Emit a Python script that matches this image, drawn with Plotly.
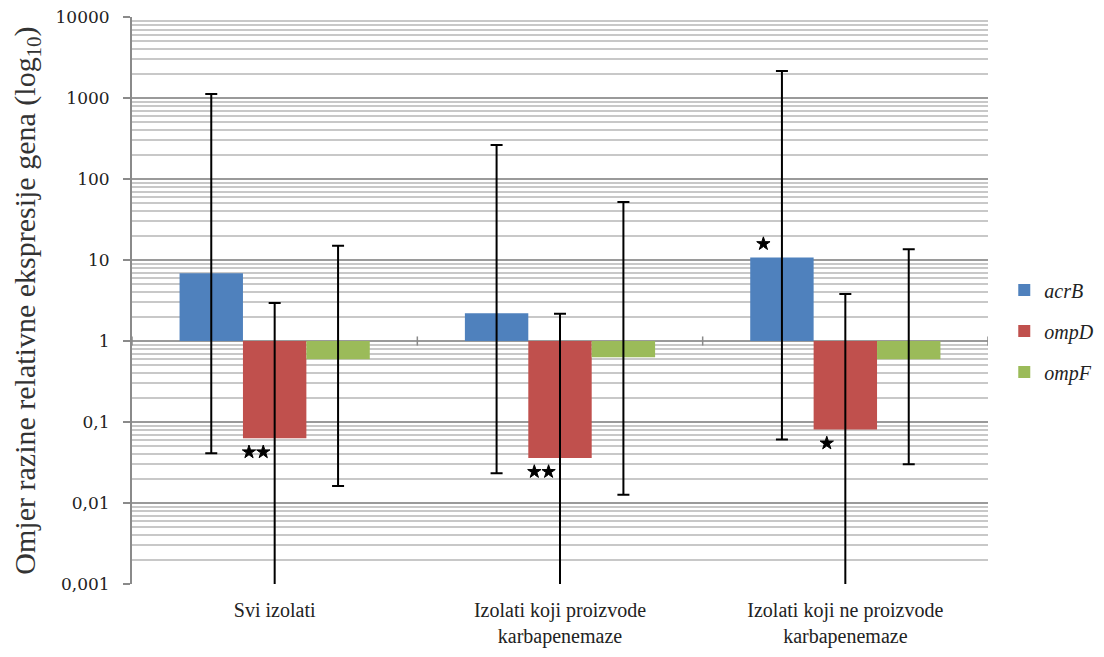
import plotly.graph_objects as go

categories = ["Svi izolati", "Izolati koji proizvode<br>karbapenemaze", "Izolati koji ne proizvode<br>karbapenemaze"]
series = ["acrB", "ompD", "ompF"]
colors = ["#4F81BD", "#C0504D", "#9BBB59"]

acrB = [6.85, 2.20, 10.7]
ompD = [0.063, 0.036, 0.081]
ompF = [0.594, 0.63, 0.594]

acrB_hi = [1120, 263, 2150]
acrB_lo = [0.041, 0.0233, 0.061]
ompD_hi = [2.94, 2.17, 3.8]
ompD_lo = [0.00001, 0.00001, 0.00001]
ompF_hi = [15.0, 52, 13.6]
ompF_lo = [0.0162, 0.0126, 0.030]

acrB_sig = ["", "", "*"]
ompD_sig = ["**", "**", "*"]
ompF_sig = ["", "", ""]

ytick_vals = [0.001, 0.01, 0.1, 1, 10, 100, 1000, 10000]
ytick_text = ["0,001", "0,01", "0,1", "1", "10", "100", "1000", "10000"]

values = [acrB, ompD, ompF]
highs = [acrB_hi, ompD_hi, ompF_hi]
lows = [acrB_lo, ompD_lo, ompF_lo]
sigs = [acrB_sig, ompD_sig, ompF_sig]

bar_w = 1 / 4.5
offsets = [-bar_w, 0, bar_w]
cat_x = list(range(len(categories)))

SERIF = "Liberation Serif"

fig = go.Figure()

for i, name in enumerate(series):
    xs = [c + offsets[i] for c in cat_x]
    vals = values[i]
    base = [1 if v >= 1 else v for v in vals]
    length = [v - 1 if v >= 1 else 1 - v for v in vals]
    fig.add_trace(go.Bar(
        x=xs, y=length, base=base, width=bar_w,
        name=f"<i>{name}</i>", marker=dict(color=colors[i], line=dict(width=0)),
        legendgroup=name, hoverinfo="skip",
    ))

for i, name in enumerate(series):
    xs = [c + offsets[i] for c in cat_x]
    vals = values[i]
    fig.add_trace(go.Scatter(
        x=xs, y=vals, mode="markers", marker=dict(size=1, opacity=0),
        showlegend=False, hoverinfo="skip",
        error_y=dict(type="data", symmetric=False,
                     array=[h - v for h, v in zip(highs[i], vals)],
                     arrayminus=[v - l for v, l in zip(vals, lows[i])],
                     color="black", thickness=2, width=6),
    ))

# significance stars
sx, sy = [], []
for i in range(len(series)):
    for j, s in enumerate(sigs[i]):
        n = len(s)
        if n == 0:
            continue
        v = values[i][j]
        yy = v * 1.48 if v >= 1 else v / 1.48
        for k in range(n):
            sx.append(cat_x[j] + offsets[i] - 0.065 + (k - (n - 1) / 2) * 0.05)
            sy.append(yy)
fig.add_trace(go.Scatter(x=sx, y=sy, mode="markers", showlegend=False, hoverinfo="skip",
                         marker=dict(symbol="star", size=10, color="black",
                                     line=dict(width=1, color="black"))))

# horizontal category axis crossing at 1, with boundary ticks
base_paper = 3 / 7
shapes = [dict(type="line", xref="x", yref="paper", x0=-0.5, x1=2.5, y0=base_paper, y1=base_paper,
               line=dict(color="#8a8a8a", width=1.5), layer="below")]
for b in [-0.5, 0.5, 1.5, 2.5]:
    shapes.append(dict(type="line", xref="x", yref="paper", x0=b, x1=b,
                       y0=base_paper - 0.008, y1=base_paper + 0.008,
                       line=dict(color="#8a8a8a", width=1.5)))

fig.update_layout(
    width=1096, height=649,
    margin=dict(l=124, r=116, t=9, b=73, autoexpand=False),
    paper_bgcolor="white", plot_bgcolor="white",
    font=dict(family=SERIF, color="#222"),
    barmode="overlay",
    shapes=shapes,
    showlegend=True,
    legend=dict(x=1.019, xanchor="left", y=0.446, yanchor="middle",
                font=dict(family=SERIF, size=20, color="#222"),
                itemwidth=30, tracegroupgap=12, traceorder="grouped",
                bgcolor="rgba(0,0,0,0)"),
    xaxis=dict(range=[-0.5, 2.5], tickvals=cat_x, ticktext=categories,
               showgrid=False, zeroline=False, showline=False, ticks="",
               automargin=False, ticklabelstandoff=12,
               tickfont=dict(family=SERIF, size=20, color="#222")),
    yaxis=dict(type="log", range=[-3, 4], tickvals=ytick_vals, ticktext=ytick_text,
               automargin=False, ticklabelstandoff=10, ticklabeloverflow="allow",
               showgrid=True, gridcolor="#9a9a9a", gridwidth=1.5,
               minor=dict(dtick="D1", showgrid=True, gridcolor="#c8c8c8", gridwidth=1.5, ticks=""),
               showline=True, linecolor="#8a8a8a", linewidth=2,
               ticks="outside", ticklen=7, tickcolor="#8a8a8a", tickwidth=1.5,
               tickfont=dict(family="DejaVu Serif", size=17, color="#222"),
               title=dict(text="Omjer razine relativne ekspresije gena (log<sub>10</sub>)",
                          font=dict(family=SERIF, size=30, color="#333"),
                          standoff=14),
               zeroline=False),
)

fig.write_html("out.html")
